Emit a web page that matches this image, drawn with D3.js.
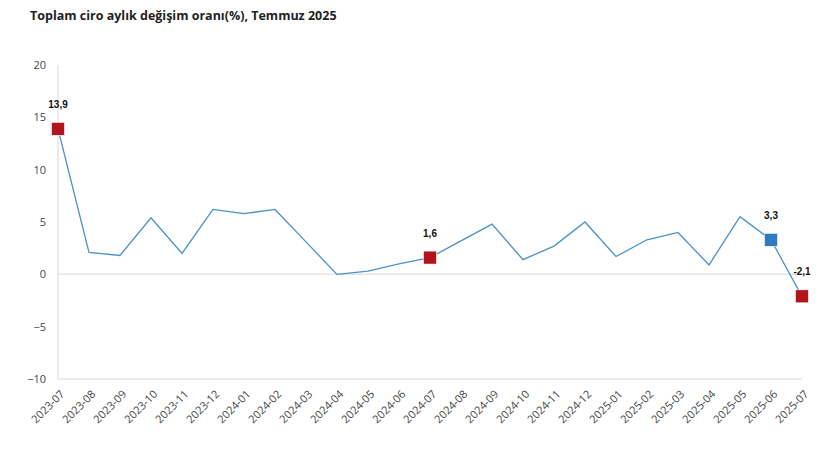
<!DOCTYPE html>
<html lang="tr">
<head>
<meta charset="UTF-8">
<title>Toplam ciro</title>
<style>
    html,body { margin:0; padding:0; background:#fff; }
    text { font-family: "Open Sans", "Noto Sans", sans-serif; }
</style>
<script src="https://cdn.jsdelivr.net/npm/d3@7"></script>
</head>
<body>
<svg id="chart"></svg>
<script>
// months and the monthly change in total turnover (%)
const months = ["2023-07","2023-08","2023-09","2023-10","2023-11","2023-12",
    "2024-01","2024-02","2024-03","2024-04","2024-05","2024-06","2024-07",
    "2024-08","2024-09","2024-10","2024-11","2024-12","2025-01","2025-02",
    "2025-03","2025-04","2025-05","2025-06","2025-07"];
const values = [13.9, 2.1, 1.8, 5.4, 2.0, 6.2, 5.8, 6.2, 3.1, 0.0, 0.3, 1.0, 1.6,
    3.2, 4.8, 1.4, 2.7, 5.0, 1.7, 3.3, 4.0, 0.9, 5.5, 3.3, -2.1];
const yTicks = [-10, -5, 0, 5, 10, 15, 20];
// highlighted points: month + marker kind
const marked = [
    {month: "2023-07", kind: "red"},
    {month: "2024-07", kind: "red"},
    {month: "2025-06", kind: "blue"},
    {month: "2025-07", kind: "red"}
];

const W = 820, H = 457;
const margin = {top: 65, right: 18, bottom: 78, left: 58};
const markColor = {red: "#b0151d", blue: "#2e7bbd"};

const data = months.map((m, i) => ({month: m, value: values[i]}));

const svg = d3.select("#chart").attr("width", W).attr("height", H);

svg.append("text")
    .attr("x", 30).attr("y", 20)
    .style("font-size", "12.5px").style("font-weight", "bold")
    .attr("fill", "#222")
    .text("Toplam ciro aylık değişim oranı(%), Temmuz 2025");

const x = d3.scalePoint().domain(months).range([margin.left, W - margin.right]);
const y = d3.scaleLinear().domain([-10, 20]).range([H - margin.bottom, margin.top]);

// axis lines
svg.append("line")
    .attr("x1", margin.left).attr("x2", margin.left)
    .attr("y1", y(20)).attr("y2", y(-10))
    .attr("stroke", "#e6e6e6").attr("stroke-width", 1.5);
svg.append("line")
    .attr("x1", margin.left).attr("x2", W - margin.right)
    .attr("y1", y(0)).attr("y2", y(0))
    .attr("stroke", "#e6e6e6").attr("stroke-width", 1.5);
svg.append("line")
    .attr("x1", margin.left).attr("x2", W - margin.right)
    .attr("y1", y(-10)).attr("y2", y(-10))
    .attr("stroke", "#e6e6e6").attr("stroke-width", 1.5);

// y axis labels
const yAxis = svg.append("g")
    .attr("transform", `translate(${margin.left - 12},0)`)
    .call(d3.axisLeft(y).tickValues(yTicks).tickSize(0).tickPadding(0));
yAxis.select(".domain").remove();
yAxis.selectAll("text")
    .style("font-size", "11px").attr("fill", "#444")
    .style("font-family", "'Open Sans', sans-serif");

// x axis labels, rotated
const xAxis = svg.append("g")
    .attr("transform", `translate(0,${y(-10)})`)
    .call(d3.axisBottom(x).tickSize(0).tickPadding(0));
xAxis.select(".domain").remove();
xAxis.selectAll("text")
    .style("font-size", "11px").attr("fill", "#444")
    .style("font-family", "'Open Sans', sans-serif")
    .attr("text-anchor", "end")
    .attr("dy", "0.35em")
    .attr("transform", "translate(4,13) rotate(-45)");

// line
const line = d3.line().x(d => x(d.month)).y(d => y(d.value));
svg.append("path")
    .datum(data)
    .attr("fill", "none")
    .attr("stroke", "#4a90c9")
    .attr("stroke-width", 1.3)
    .attr("d", line);

// highlighted markers with labels
const fmt = v => String(v).replace(".", ",");
const mk = marked.map(d => ({...d, value: values[months.indexOf(d.month)]}));
const sz = 13;
svg.selectAll("rect.mark").data(mk).enter().append("rect")
    .attr("class", "mark")
    .attr("x", d => x(d.month) - sz / 2)
    .attr("y", d => y(d.value) - sz / 2)
    .attr("width", sz).attr("height", sz)
    .attr("fill", d => markColor[d.kind])
    .attr("stroke", "#fff").attr("stroke-width", 0.6);

svg.selectAll("text.lbl").data(mk).enter().append("text")
    .attr("class", "lbl")
    .attr("x", d => x(d.month))
    .attr("y", d => y(d.value) - 21)
    .attr("text-anchor", "middle")
    .style("font-size", "10px").style("font-weight", "bold")
    .style("font-family", "'Liberation Sans', Arial, sans-serif")
    .attr("fill", "#111")
    .text(d => fmt(d.value));
</script>
</body>
</html>
